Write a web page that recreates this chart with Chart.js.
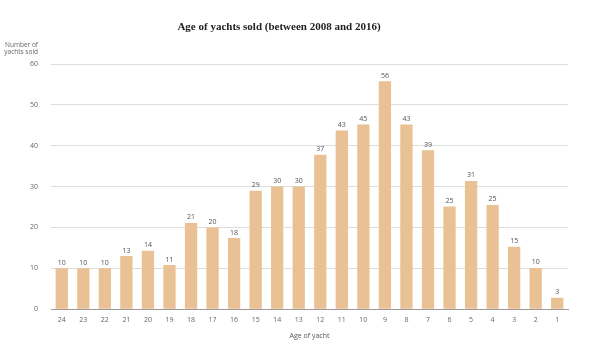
<!DOCTYPE html>
<html>
<head>
<meta charset="utf-8">
<script src="https://cdn.jsdelivr.net/npm/chart.js@4"></script>
<style>
html,body{margin:0;padding:0;background:#fff;}
#wrap{width:600px;height:360px;position:relative;}
</style>
</head>
<body>
<div id="wrap"><canvas id="c" width="600" height="360"></canvas></div>
<script>
const ages = ["24","23","22","21","20","19","18","17","16","15","14","13","12","11","10","9","8","7","6","5","4","3","2","1"];
const yachtsSold = [10,10,10,13,14.3,10.8,21.1,20,17.4,29,30,30,37.8,43.7,45.2,55.8,45.2,38.9,25.1,31.4,25.5,15.3,10.1,2.8];
const valueLabels = ["10","10","10","13","14","11","21","20","18","29","30","30","37","43","45","56","43","39","25","31","25","15","10","3"];
const yTicks = [0,10,20,30,40,50,60];
const chartTitle = "Age of yachts sold (between 2008 and 2016)";
const yTitle = ["Number of","yachts sold"];
const xTitle = "Age of yacht";

const labelPlugin = {
  id: 'labelPlugin',
  afterDatasetsDraw(chart) {
    const ctx = chart.ctx;
    const meta = chart.getDatasetMeta(0);
    ctx.save();
    ctx.font = "7px 'Open Sans', sans-serif";
    ctx.fillStyle = "#555";
    ctx.textAlign = "center";
    ctx.textBaseline = "bottom";
    meta.data.forEach((bar, i) => {
      ctx.fillText(valueLabels[i], bar.x, bar.y - 2);
    });
    ctx.restore();
  },
  afterDraw(chart) {
    const ctx = chart.ctx;
    ctx.save();
    ctx.font = "bold 11px 'Liberation Serif', serif";
    ctx.fillStyle = "#222";
    ctx.textAlign = "center";
    ctx.textBaseline = "middle";
    ctx.fillText(chartTitle, 279, 27);
    ctx.font = "6.5px 'Open Sans', sans-serif";
    ctx.fillStyle = "#666";
    ctx.textAlign = "right";
    ctx.fillText(yTitle[0], 38, 45);
    ctx.fillText(yTitle[1], 38, 52);
    ctx.restore();
  }
};

new Chart(document.getElementById('c'), {
  type: 'bar',
  data: {
    labels: ages,
    datasets: [{
      data: yachtsSold,
      backgroundColor: '#EAC194',
      barPercentage: 0.57,
      categoryPercentage: 1.0
    }]
  },
  options: {
    responsive: false,
    animation: false,
    layout: { padding: { top: 64, left: 17, right: 32, bottom: 20 } },
    plugins: { legend: { display: false }, tooltip: { enabled: false }, title: { display: false } },
    scales: {
      x: {
        grid: { display: false, drawTicks: false },
        border: { display: true, color: '#999', width: 1 },
        ticks: { color: '#666', font: { size: 7, family: "'Open Sans', sans-serif" }, padding: 7, maxRotation: 0, autoSkip: false },
        title: { display: true, text: xTitle, color: '#555', font: { size: 7, family: "'Open Sans', sans-serif" }, padding: { top: 0, bottom: 0 } }
      },
      y: {
        min: 0, max: 60,
        afterBuildTicks(axis) { axis.ticks = yTicks.map(v => ({ value: v })); },
        grid: { drawTicks: false, color: (c) => c.tick && c.tick.value === 0 ? '#999' : '#ddd', lineWidth: 1 },
        border: { display: false },
        ticks: { color: '#666', font: { size: 7, family: "'Open Sans', sans-serif" }, padding: 13 }
      }
    }
  },
  plugins: [labelPlugin]
});
</script>
</body>
</html>
